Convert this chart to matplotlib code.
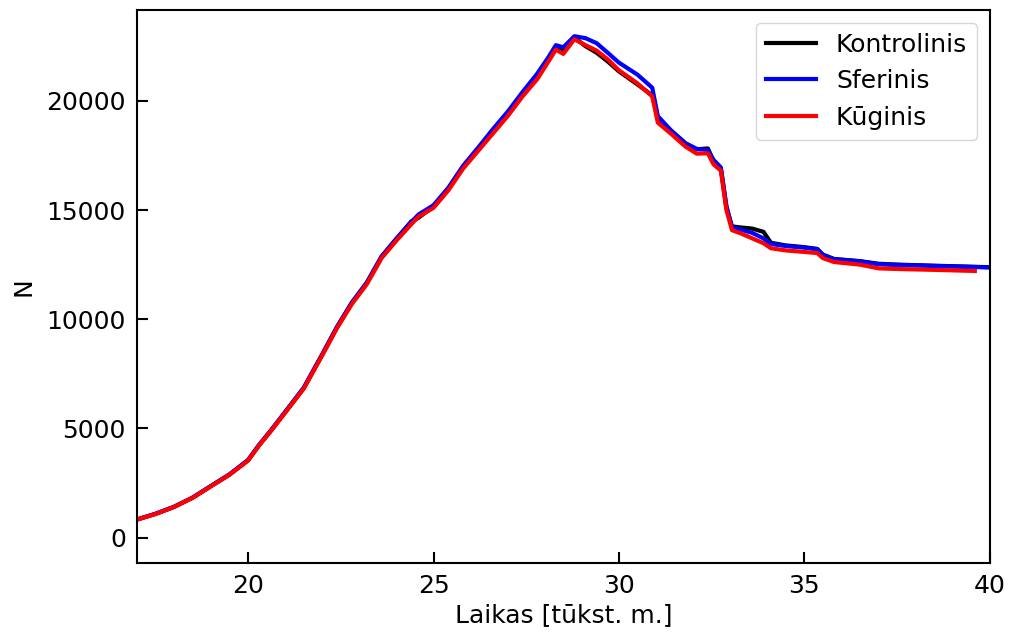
import numpy as np
import matplotlib
matplotlib.use("Agg")
import matplotlib.pyplot as plt

x = [17.0, 17.5, 18.0, 18.5, 19.0, 19.5, 20.0, 20.3, 20.6, 21.0, 21.5, 22.0, 22.4, 22.8,
     23.2, 23.6, 24.0, 24.4, 24.6, 25.0, 25.4, 25.8, 26.2, 26.6, 27.0, 27.4, 27.8, 28.1,
     28.3, 28.5, 28.8, 29.1, 29.4, 29.7, 30.0, 30.5, 30.9, 31.05, 31.4, 31.8, 32.1, 32.4,
     32.55, 32.75, 32.9, 33.05, 33.3, 33.6, 33.9, 34.1, 34.5, 35.0, 35.35, 35.5, 35.8,
     36.5, 37.0, 37.5, 38.5, 39.6, 40.0]

kuginis = [820, 1080, 1400, 1820, 2350, 2880, 3530, 4230, 4850, 5720, 6820, 8350, 9600, 10700,
           11600, 12800, 13600, 14350, 14700, 15100, 15900, 16900, 17700, 18500, 19300, 20200,
           21000, 21800, 22350, 22150, 22820, 22550, 22300, 21900, 21400, 20800, 20200, 19000,
           18500, 17900, 17580, 17600, 17100, 16800, 15000, 14080, 13920, 13700, 13480, 13250,
           13150, 13080, 13030, 12800, 12620, 12500, 12330, 12300, 12260, 12210]

sferinis = [830, 1090, 1410, 1830, 2370, 2900, 3560, 4260, 4880, 5760, 6870, 8400, 9660, 10770,
            11680, 12880, 13690, 14450, 14800, 15220, 16020, 17030, 17850, 18700, 19500, 20400,
            21250, 22000, 22550, 22450, 22960, 22870, 22640, 22200, 21750, 21200, 20600, 19300,
            18650, 18050, 17800, 17750, 17300, 16950, 15200, 14200, 14100, 13950, 13700, 13450,
            13350, 13280, 13200, 12950, 12750, 12650, 12520, 12490, 12440, 12390, 12370]

kontrolinis = [825, 1085, 1405, 1825, 2360, 2890, 3545, 4245, 4865, 5740, 6845, 8380, 9640, 10760,
               11660, 12860, 13680, 14480, 14650, 15180, 15980, 16980, 17780, 18600, 19400, 20300,
               21100, 21900, 22450, 22250, 22900, 22500, 22200, 21800, 21350, 20750, 20250, 19250,
               18650, 18050, 17780, 17820, 17250, 16900, 15100, 14250, 14200, 14150, 14000, 13500,
               13380, 13300, 13220, 12960, 12760, 12660, 12540, 12500, 12450, 12400, 12380]

fig = plt.figure(figsize=(10.14, 6.38), dpi=100)
ax = fig.add_axes([0.135, 0.118, 0.841, 0.866])

ax.plot(x, kontrolinis, color='black', lw=3, label='Kontrolinis')
ax.plot(x, sferinis, color='blue', lw=3, label='Sferinis')
ax.plot(x[:len(kuginis)], kuginis, color='red', lw=3, label='Kūginis')

ax.set_xlim(17, 40)
ax.set_ylim(-1150, 24150)
ax.set_xticks([20, 25, 30, 35, 40])
ax.set_yticks([0, 5000, 10000, 15000, 20000])
ax.tick_params(direction='in', length=8, width=1.5, labelsize=18, pad=8)
for s in ax.spines.values():
    s.set_linewidth(1.5)

ax.set_xlabel("Laikas [tūkst. m.]", fontsize=18, labelpad=4)
ax.set_ylabel("N", fontsize=18, labelpad=8)
ax.legend(loc='upper right', fontsize=18)

fig.savefig("out.png", dpi=100)
